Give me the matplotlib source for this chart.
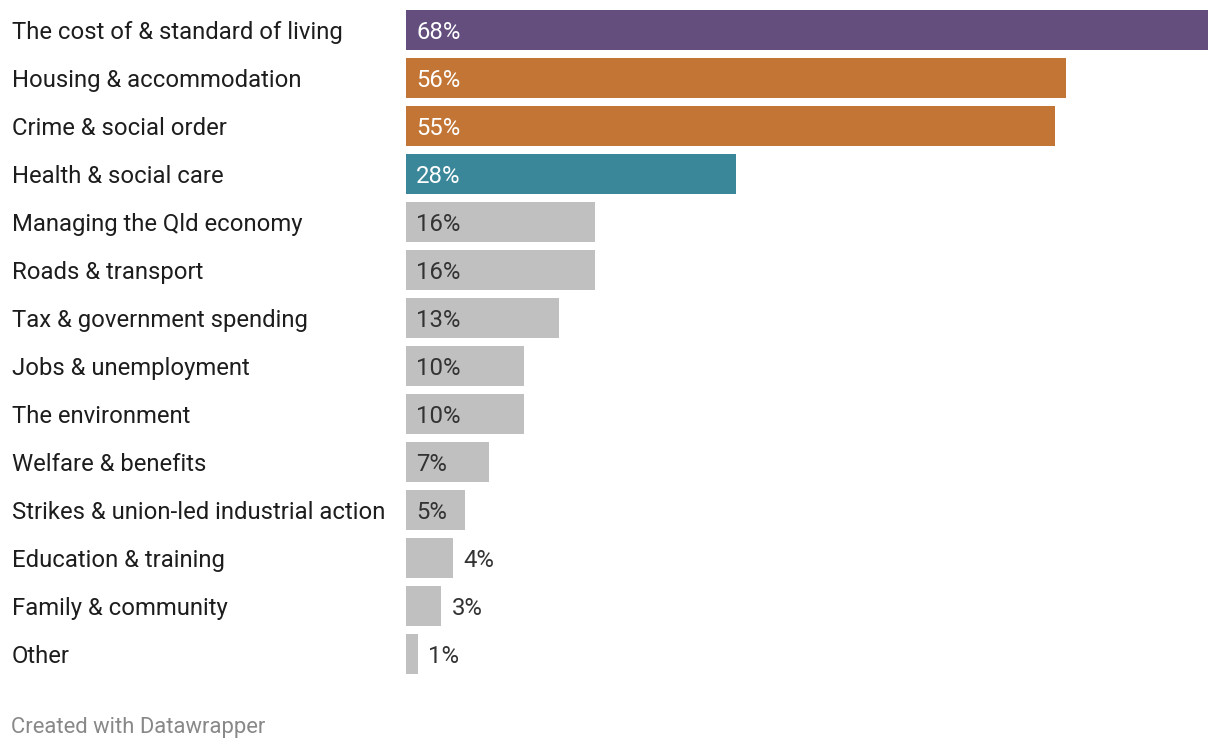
import matplotlib.pyplot as plt

# Data
categories = [
    "The cost of & standard of living",
    "Housing & accommodation",
    "Crime & social order",
    "Health & social care",
    "Managing the Qld economy",
    "Roads & transport",
    "Tax & government spending",
    "Jobs & unemployment",
    "The environment",
    "Welfare & benefits",
    "Strikes & union-led industrial action",
    "Education & training",
    "Family & community",
    "Other",
]
values = [68, 56, 55, 28, 16, 16, 13, 10, 10, 7, 5, 4, 3, 1]
colors = ["#634e7e", "#c27534", "#c27534", "#3a8799"] + ["#c0c0c0"] * 10

plt.rcParams['font.family'] = ['Roboto', 'DejaVu Sans']

W, H = 1220, 750
fig = plt.figure(figsize=(W / 100, H / 100), dpi=100)

# axes in pixel coordinates: bars from x=406 to 1208, rows 48px apart
left, right = 406, 1208
top, bottom = 6, 678
ax = fig.add_axes([left / W, 1 - bottom / H, (right - left) / W, (bottom - top) / H])

y = list(range(len(categories)))
ax.barh(y, values, height=40 / 48, color=colors, align='center')
ax.set_xlim(0, 68)
ax.set_ylim(len(categories) - 0.5, -0.5)
ax.axis('off')

px = 68 / (right - left)  # data units per pixel
dy = 2 / 48               # nudge text down a little
fs = 17.2
for i, (cat, v, c) in enumerate(zip(categories, values, colors)):
    ax.text(-394 * px, i + dy, cat, ha='left', va='center', fontsize=fs, color='#1d1d1d')
    if v >= 5:
        tc = 'white' if c != "#c0c0c0" else '#333333'
        ax.text(10 * px, i + dy, f"{v}%", ha='left', va='center', fontsize=fs, color=tc)
    else:
        ax.text(v + 10 * px, i + dy, f"{v}%", ha='left', va='center', fontsize=fs, color='#333333')

fig.text(11 / W, 1 - 727 / H, "Created with Datawrapper", ha='left', va='center',
         fontsize=15.8, color='#888888')

fig.savefig("out.png", dpi=100)
